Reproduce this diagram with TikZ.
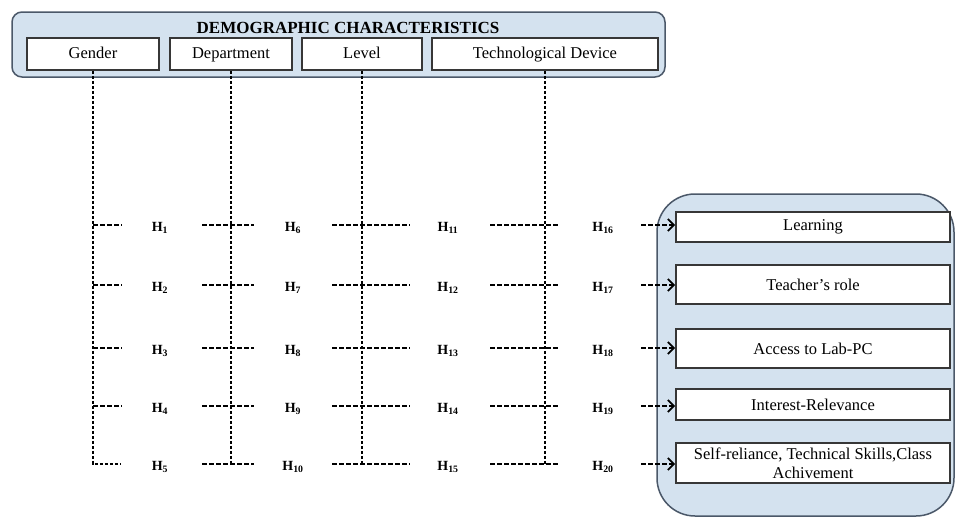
\documentclass[tikz,border=0pt]{standalone}
\usepackage{fontspec}
\setmainfont{Liberation Serif}
\usetikzlibrary{arrows.meta}
\definecolor{panelfill}{RGB}{212,226,239}
\definecolor{paneldraw}{RGB}{75,88,105}
\definecolor{boxdraw}{RGB}{55,55,55}
\begin{document}
\begin{tikzpicture}[x=1pt,y=-1pt,
  panel/.style={draw=paneldraw, fill=panelfill, line width=1.5pt},
  dbox/.style={draw=boxdraw, fill=white, line width=1.8pt, inner sep=0pt, font=\fontsize{16.5}{19}\selectfont},
  tbox/.style={dbox, text height=10pt, text depth=2pt},
  obox/.style={dbox, minimum width=274pt, align=center, font=\fontsize{16.5}{19}\selectfont},
  vdash/.style={line width=2.2pt, dash pattern=on 3.5pt off 1.5pt},
  hdash/.style={line width=2pt, dash pattern=on 4.5pt off 2.5pt},
  hlab/.style={font=\fontsize{14}{16}\selectfont\bfseries, inner sep=1pt},
  arr/.style={hdash, -{Straight Barb[length=6pt,width=12pt,line width=1.8pt]}}]
\useasboundingbox (0,0) rectangle (956,517);
\fill[white] (0,0) rectangle (956,517);

% top panel
\draw[panel, rounded corners=10pt] (12,12) rectangle (665,77);
\node[font=\fontsize{17}{19}\selectfont\bfseries, inner sep=0pt] (title) at (348,28) {DEMOGRAPHIC CHARACTERISTICS};
\node[tbox, minimum width=132pt, minimum height=32pt] (gender) at (93,54) {Gender};
\node[tbox, minimum width=122pt, minimum height=32pt] (dept) at (231,54) {Department};
\node[tbox, minimum width=120pt, minimum height=32pt] (level) at (362,54) {Level};
\node[tbox, minimum width=226pt, minimum height=32pt] (tech) at (545,54) {Technological Device};

% right panel
\draw[panel, rounded corners=38pt] (657,194) rectangle (954,516);
\node[obox, minimum height=30pt] (out1) at (813,227) {Learning};
\node[obox, minimum height=39pt] (out2) at (813,284.5) {Teacher’s role};
\node[obox, minimum height=39pt] (out3) at (813,348.5) {Access to Lab-PC};
\node[obox, minimum height=31pt] (out4) at (813,404.5) {Interest-Relevance};
\node[obox, minimum height=40pt] (out5) at (813,463) {Self-reliance, Technical Skills,Class\\Achivement};

% rows
\coordinate (row1) at (0,225);
\coordinate (row2) at (0,285);
\coordinate (row3) at (0,348);
\coordinate (row4) at (0,406);
\coordinate (row5) at (0,464);

% vertical lines
\draw[vdash] (gender.south) -- (gender.south |- row5) -- ++(28,0);
\draw[vdash] (dept.south) -- (dept.south |- row5);
\draw[vdash] (level.south) -- (level.south |- row5);
\draw[vdash] (tech.south) -- (tech.south |- row5);

% horizontal segments and labels
\foreach \i/\a/\b/\c/\d in {1/1/6/11/16, 2/2/7/12/17, 3/3/8/13/18, 4/4/9/14/19, 5/5/10/15/20} {
  \ifnum\i<5 \draw[hdash] (gender.south |- row\i) -- ++(29,0); \fi
  \draw[hdash] ([xshift=-29pt]dept.south |- row\i) -- ++(52,0);
  \draw[hdash] ([xshift=-30pt]level.south |- row\i) -- ++(78,0);
  \draw[hdash] ([xshift=-55pt]tech.south |- row\i) -- ++(70,0);
  \node[hlab] (ha\i) at ([yshift=-3pt]160,0 |- row\i) {H\textsubscript{\a}};
  \node[hlab] (hb\i) at ([yshift=-3pt]293,0 |- row\i) {H\textsubscript{\b}};
  \node[hlab] (hc\i) at ([yshift=-3pt]448,0 |- row\i) {H\textsubscript{\c}};
  \node[hlab] (hd\i) at ([yshift=-3pt]603,0 |- row\i) {H\textsubscript{\d}};
  \coordinate (as\i) at ([xshift=641pt]row\i);
  \draw[arr] (as\i) -- (out\i.west |- row\i);
}
\end{tikzpicture}
\end{document}
